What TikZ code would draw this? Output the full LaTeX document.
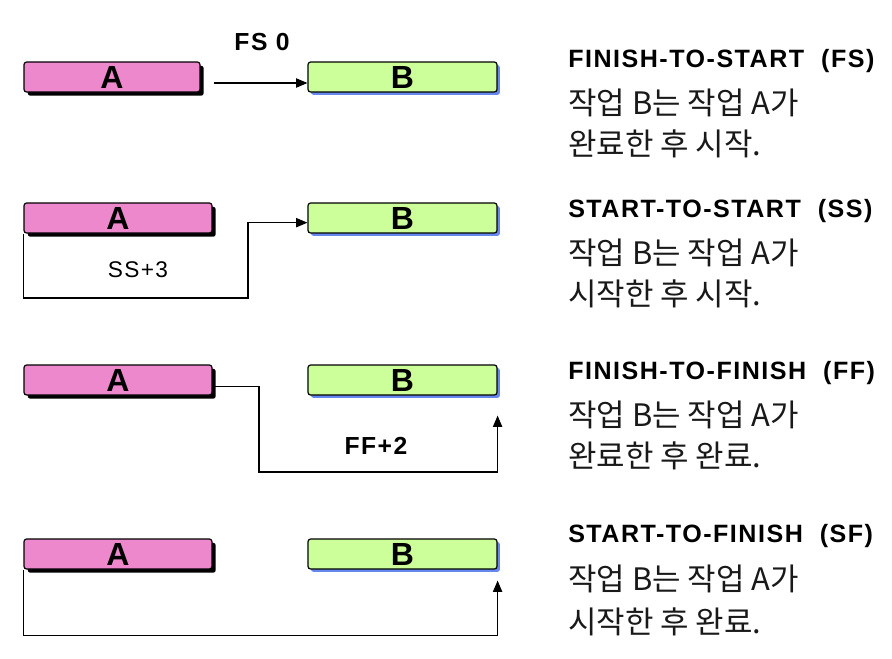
\documentclass[tikz,border=0pt]{standalone}
\usepackage{fontspec}
\setmainfont{Liberation Sans}
\newfontfamily\krfont{Noto Sans CJK KR}
\newfontfamily\spfont[LetterSpace=6]{Liberation Sans}
\usetikzlibrary{arrows.meta,shadows}
\definecolor{pinkA}{HTML}{EE88CC}
\definecolor{greenB}{HTML}{CCFF99}
\definecolor{shadowB}{HTML}{6688EE}
\tikzset{
  bar/.style={draw=black, line width=0.9pt, rounded corners=2pt, minimum height=22.5pt,
    inner sep=0pt, font=\bfseries\fontsize{24}{24}\selectfont},
  abar/.style={bar, fill=pinkA, minimum width=141pt,
    drop shadow={shadow xshift=2.8pt, shadow yshift=-2.8pt, fill=black, opacity=1}},
  bbar/.style={bar, fill=greenB, minimum width=141.75pt,
    drop shadow={shadow xshift=2.2pt, shadow yshift=-2.2pt, fill=shadowB, opacity=1}},
  link/.style={draw=black, line width=0.8pt, -{Triangle[length=8.5pt,width=7pt]}},
  lagb/.style={inner sep=0pt, font=\spfont\bfseries\fontsize{18.5}{18.5}\selectfont},
  lagr/.style={inner sep=0pt, text=black, font=\spfont\fontsize{17}{17}\selectfont},
  ttl/.style={anchor=west, inner sep=0pt, font=\spfont\bfseries\fontsize{18.8}{18.8}\selectfont},
  kr/.style={anchor=west, inner sep=0pt, text=black!90, font=\krfont\fontsize{23.2}{23.2}\selectfont},
}
\begin{document}
\begin{tikzpicture}[x=0.75pt,y=-0.75pt]
\useasboundingbox (0,0) rectangle (892,658);
% Row 1: FS
\node[abar, minimum width=132pt] (A1) at (112,77) {A};
\node[bbar] (B1) at (402.5,77) {B};
\node[lagb] (L1) at (262,42) {FS 0};
\draw[link] ([xshift=9.75pt,yshift=-4.5pt]A1.east) -- ([yshift=-4.5pt]B1.west);
% Row 2: SS
\node[abar] (A2) at (118,218) {A};
\node[bbar] (B2) at (402.5,218) {B};
\node[lagr] (L2) at (138,270) {SS+3};
\coordinate (c2) at (248,298);
\draw[link] (A2.south west) |- (c2) |- ([yshift=-3.5pt]B2.west);
% Row 3: FF
\node[abar] (A3) at (118,380) {A};
\node[bbar] (B3) at (402.5,380) {B};
\node[lagb] (L3) at (376,446) {FF+2};
\coordinate (c3) at (259,472);
\draw[link] ([yshift=-5pt]A3.east) -| (c3) -| ([yshift=-15pt]B3.south east);
% Row 4: SF
\node[abar] (A4) at (118,554) {A};
\node[bbar] (B4) at (402.5,554) {B};
\draw[link] (A4.south west) -- ++(0,66) -| ([yshift=-8.25pt]B4.south east);
% Right-hand descriptions
\node[ttl] (T1) at (568,61) {FINISH-TO-START\ \ (FS)};
\node[kr] (K1a) at (568,103) {작업 B는 작업 A가};
\node[kr] (K1b) at (568,144) {완료한 후 시작.};
\node[ttl] (T2) at (568,211) {START-TO-START\ \ (SS)};
\node[kr] (K2a) at (568,253) {작업 B는 작업 A가};
\node[kr] (K2b) at (568,294) {시작한 후 시작.};
\node[ttl] (T3) at (568,373) {FINISH-TO-FINISH\ \ (FF)};
\node[kr] (K3a) at (568,415) {작업 B는 작업 A가};
\node[kr] (K3b) at (568,456) {완료한 후 완료.};
\node[ttl] (T4) at (568,536) {START-TO-FINISH\ \ (SF)};
\node[kr] (K4a) at (568,579) {작업 B는 작업 A가};
\node[kr] (K4b) at (568,622) {시작한 후 완료.};
\end{tikzpicture}
\end{document}
